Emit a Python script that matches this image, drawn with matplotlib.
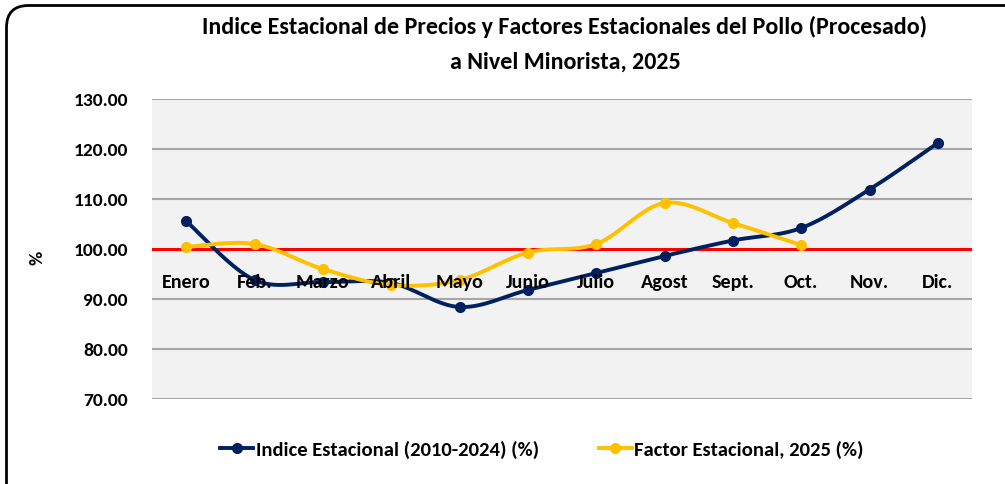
import numpy as np
import matplotlib
matplotlib.use("Agg")
import matplotlib.pyplot as plt
from matplotlib.patches import FancyBboxPatch
from matplotlib.lines import Line2D

plt.rcParams['font.family'] = ['Carlito', 'DejaVu Sans']

meses = ["Enero", "Feb.", "Marzo", "Abril", "Mayo", "Junio", "Julio",
         "Agost", "Sept.", "Oct.", "Nov.", "Dic."]
indice = [105.6, 93.8, 93.4, 93.2, 88.4, 91.8, 95.2, 98.6, 101.7, 104.2, 111.9, 121.2]
factor = [100.4, 101.0, 96.0, 92.8, 93.8, 99.3, 101.0, 109.2, 105.2, 100.8]
yticks = [70, 80, 90, 100, 110, 120, 130]

BLUE = "#002060"
YELLOW = "#FFC000"


def smooth(xs, ys, n=30):
    xs = np.asarray(xs, float)
    ys = np.asarray(ys, float)
    px = np.concatenate([[xs[0]], xs, [xs[-1]]])
    py = np.concatenate([[ys[0]], ys, [ys[-1]]])
    ox, oy = [], []
    t = np.linspace(0, 1, n)
    for i in range(1, len(px) - 2):
        p0 = np.array([px[i - 1], py[i - 1]])
        p1 = np.array([px[i], py[i]])
        p2 = np.array([px[i + 1], py[i + 1]])
        p3 = np.array([px[i + 2], py[i + 2]])
        c1 = p1 + (p2 - p0) / 6
        c2 = p2 - (p3 - p1) / 6
        b = ((1 - t) ** 3)[:, None] * p1 + (3 * (1 - t) ** 2 * t)[:, None] * c1 \
            + (3 * (1 - t) * t ** 2)[:, None] * c2 + (t ** 3)[:, None] * p2
        ox.extend(b[:, 0])
        oy.extend(b[:, 1])
    return ox, oy


W, H = 10.05, 4.85
fig = plt.figure(figsize=(W, H), dpi=100)
fig.patch.set_facecolor("white")

border = FancyBboxPatch((0.065, -1.0), W + 1.0, H + 1.0 - 0.065,
                        boxstyle="round,pad=0,rounding_size=0.22",
                        transform=fig.dpi_scale_trans, fill=False,
                        edgecolor="black", linewidth=2.0)
fig.patches.append(border)

ax = fig.add_axes([152 / 1005, 85 / 485, 820 / 1005, 300 / 485])
ax.set_facecolor("#F2F2F2")
ax.set_xlim(-0.5, 11.5)
ax.set_ylim(70, 130)
ax.set_yticks(yticks)
ax.set_yticklabels([f"{v:.2f}" for v in yticks], fontsize=14, fontweight="bold")
for v in yticks:
    if v != 100:
        ax.axhline(v, color="#A6A6A6", linewidth=1.5, zorder=1)
ax.axhline(100, color="#FF0000", linewidth=2.2, zorder=2)
for s in ax.spines.values():
    s.set_visible(False)
ax.tick_params(axis="y", length=0, pad=17.5)
ax.set_xticks([])

x = np.arange(len(meses))
for i, m in enumerate(meses):
    ax.text(i, 93.5, m, ha="center", va="center", fontsize=14.5,
            fontweight="bold", color="black", zorder=5)

sx, sy = smooth(x, indice)
ax.plot(sx, sy, color=BLUE, linewidth=2.8, zorder=3, solid_capstyle="round")
ax.plot(x, indice, "o", color=BLUE, markersize=7, zorder=3)

xf = np.arange(len(factor))
sx, sy = smooth(xf, factor)
ax.plot(sx, sy, color=YELLOW, linewidth=2.8, zorder=4, solid_capstyle="round")
ax.plot(xf, factor, "o", color=YELLOW, markersize=7, zorder=4)

fig.text(37 / 1005, 1 - 258 / 485, "%", rotation=90, ha="center", va="center",
         fontsize=14, fontweight="bold")

fig.text(565 / 1005, 1 - 27 / 485,
         "Indice Estacional de Precios y Factores Estacionales del Pollo (Procesado)",
         ha="center", va="center", fontsize=17.3, fontweight="bold")
fig.text(565 / 1005, 1 - 62 / 485, "a Nivel Minorista, 2025",
         ha="center", va="center", fontsize=17.3, fontweight="bold")

h1 = Line2D([], [], color=BLUE, linewidth=2.8, marker="o", markersize=7)
h2 = Line2D([], [], color=YELLOW, linewidth=2.8, marker="o", markersize=7)
leg = fig.legend([h1, h2], ["Indice Estacional (2010-2024) (%)", "Factor Estacional, 2025 (%)"],
                 loc="center", bbox_to_anchor=(542 / 1005, 1 - 450 / 485), ncol=2,
                 frameon=False, handlelength=1.6, handletextpad=0.12, columnspacing=2.9,
                 prop={"size": 14.9, "weight": "bold"})

fig.savefig("out.png", dpi=100)
